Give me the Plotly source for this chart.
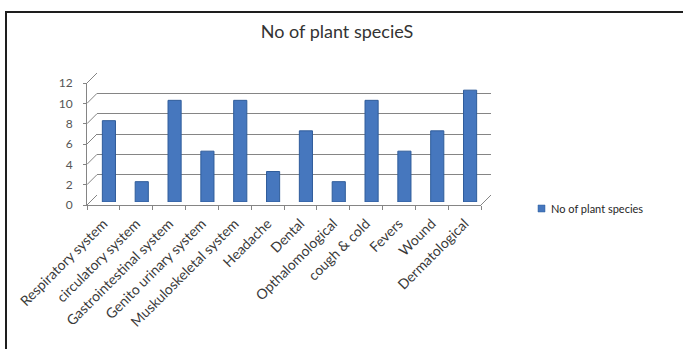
import plotly.graph_objects as go

# ---- data -------------------------------------------------------------
categories = [
    "Respiratory system",
    "circulatory system",
    "Gastrointestinal system",
    "Genito urinary system",
    "Muskuloskeletal system",
    "Headache",
    "Dental",
    "Opthalomological",
    "cough & cold",
    "Fevers",
    "Wound",
    "Dermatological",
]
species_counts = [8, 2, 10, 5, 10, 3, 7, 2, 10, 5, 7, 11]
y_ticks = [0, 2, 4, 6, 8, 10, 12]
series_name = "No of plant species"
chart_title = "No of plant specieS"

# ---- page geometry (pixels) -------------------------------------------
FIG_W, FIG_H = 683, 349
M_L, M_R, M_T, M_B = 87, 192, 73, 144
PLOT_W = FIG_W - M_L - M_R
PLOT_H = FIG_H - M_T - M_B


def fx(px):
    """pixel x -> paper x"""
    return (px - M_L) / PLOT_W


def fy(py):
    """pixel y (from top) -> paper y"""
    return (FIG_H - M_B - py) / PLOT_H


Y_MAX = max(y_ticks)
DEPTH = 10  # pixel depth of the pseudo-3D box

# front plane (axis labels), mid plane (columns), back wall (gridlines)
front_x = [fx(87), fx(481)]
front_y = [fy(205), fy(83)]
mid_x = [fx(87 + DEPTH / 2 + 0.5), fx(481 + DEPTH / 2 + 0.5)]
mid_y = [fy(205 - 3), fy(83 - 3)]
back_x = [fx(87 + DEPTH), fx(481 + DEPTH)]
back_y = [fy(205 - DEPTH), fy(83 - DEPTH)]

GRID = "#858585"
TEXT = "#3a3a3a"
BAR = "#4677BE"
BAR_EDGE = "#2F5C9A"
FONT = "Lato"

fig = go.Figure()

# front axis carrier (category labels)
fig.add_trace(go.Scatter(
    x=categories, y=species_counts, mode="markers",
    marker=dict(opacity=0), hoverinfo="skip", showlegend=False,
    xaxis="x", yaxis="y",
))
# back wall carrier (gridlines)
fig.add_trace(go.Scatter(
    x=categories, y=species_counts, mode="markers",
    marker=dict(opacity=0), hoverinfo="skip", showlegend=False,
    xaxis="x2", yaxis="y2",
))
# columns
fig.add_trace(go.Bar(
    x=categories, y=species_counts, name=series_name,
    marker=dict(color=BAR, line=dict(color=BAR_EDGE, width=1)),
    showlegend=False, xaxis="x3", yaxis="y3",
))

cat_range = [-0.5, len(categories) - 0.5]

layout = dict(
    width=FIG_W, height=FIG_H,
    margin=dict(l=M_L, r=M_R, t=M_T, b=M_B, pad=0),
    paper_bgcolor="white", plot_bgcolor="rgba(0,0,0,0)",
    font=dict(family=FONT, color=TEXT),
    bargap=0.6,
    title=dict(
        text=chart_title, x=337 / FIG_W, xanchor="center",
        y=1 - 32 / FIG_H, yanchor="middle", yref="container",
        font=dict(family=FONT, size=18, color="#333333"),
    ),
    xaxis=dict(
        domain=front_x, anchor="y", type="category", range=cat_range,
        showgrid=False, zeroline=False, showline=True, linecolor=GRID, linewidth=1,
        ticks="outside", tickson="boundaries", ticklen=4, tickcolor=GRID,
        ticklabelstandoff=4,
        tickangle=-45, tickfont=dict(family=FONT, size=14, color=TEXT),
    ),
    yaxis=dict(
        domain=front_y, anchor="x", range=[0, Y_MAX], tickvals=y_ticks,
        showgrid=False, zeroline=False, showline=True, linecolor=GRID, linewidth=1,
        ticks="outside", ticklen=3, tickcolor=GRID, ticklabelstandoff=8,
        tickfont=dict(family=FONT, size=12, color="#555555"),
    ),
    xaxis2=dict(
        domain=back_x, anchor="y2", type="category", range=cat_range,
        showgrid=False, zeroline=False, showline=False, showticklabels=False, ticks="",
    ),
    yaxis2=dict(
        domain=back_y, anchor="x2", range=[0, Y_MAX], tickvals=y_ticks,
        showgrid=True, gridcolor=GRID, gridwidth=1, zeroline=False,
        showline=False, showticklabels=False, ticks="",
    ),
    xaxis3=dict(
        domain=mid_x, anchor="y3", type="category", range=cat_range,
        showgrid=False, zeroline=False, showline=False, showticklabels=False, ticks="",
    ),
    yaxis3=dict(
        domain=mid_y, anchor="x3", range=[0, Y_MAX],
        showgrid=False, zeroline=False, showline=False, showticklabels=False, ticks="",
    ),
)


def on_plane(dom, v):
    return dom[0] + (dom[1] - dom[0]) * v / Y_MAX


shapes = []
# side-wall depth lines joining each front tick to its back gridline
for v in y_ticks:
    shapes.append(dict(
        type="line", xref="paper", yref="paper",
        x0=front_x[0], y0=on_plane(front_y, v),
        x1=back_x[0], y1=on_plane(back_y, v),
        line=dict(color=GRID, width=1), layer="below",
    ))
# right edge of the floor
shapes.append(dict(
    type="line", xref="paper", yref="paper",
    x0=front_x[1], y0=front_y[0], x1=back_x[1], y1=back_y[0],
    line=dict(color=GRID, width=1), layer="below",
))
# outer frame: left and top edges of the chart area
FRAME = dict(color="#1e1e1e", width=2)
shapes.append(dict(
    type="line", xref="paper", yref="paper",
    x0=fx(6), y0=fy(12), x1=fx(6), y1=fy(FIG_H), line=FRAME,
))
shapes.append(dict(
    type="line", xref="paper", yref="paper",
    x0=fx(5), y0=fy(12), x1=fx(FIG_W), y1=fy(12), line=FRAME,
))
# legend key
shapes.append(dict(
    type="rect", xref="paper", yref="paper",
    x0=fx(538), y0=fy(212), x1=fx(545), y1=fy(205),
    line=dict(color=BAR_EDGE, width=0.5), fillcolor=BAR,
))
layout["shapes"] = shapes

layout["annotations"] = [dict(
    xref="paper", yref="paper", x=fx(549), y=fy(208.5),
    xanchor="left", yanchor="middle", showarrow=False,
    text=series_name, font=dict(family=FONT, size=11, color="#262626"),
)]

fig.update_layout(**layout)
fig.write_html("out.html")
